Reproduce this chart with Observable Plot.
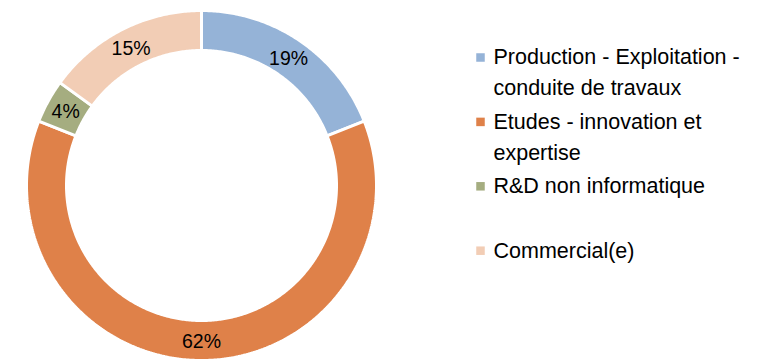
<!DOCTYPE html>
<html>
<head>
<meta charset="utf-8">
<script src="https://cdn.jsdelivr.net/npm/d3@7"></script>
<script src="https://cdn.jsdelivr.net/npm/@observablehq/plot@0.6"></script>
<style>
  html, body { margin: 0; padding: 0; background: #fff; }
  #chart svg { display: block; }
</style>
</head>
<body>
<div id="chart"></div>
<script>
const categories = ["Production - Exploitation - conduite de travaux", "Etudes - innovation et expertise", "R&D non informatique", "Commercial(e)"];
const legendLines = [["Production - Exploitation -", "conduite de travaux"], ["Etudes - innovation et", "expertise"], ["R&D non informatique"], ["Commercial(e)"]];
const values = [19, 62, 4, 15];
const colors = ["#95B3D7", "#DF8149", "#A5AD80", "#F2CDB5"];

const W = 772, H = 361;
const cx = 201, cy = 185, rOuter = 175, rInner = 135, rLabel = 155;
const font = "'Liberation Sans', Arial, sans-serif";

const arcs = d3.pie().sort(null).value(d => d)(values);
const polyPts = [];
arcs.forEach((a, i) => {
  const n = Math.max(8, Math.ceil((a.endAngle - a.startAngle) / 0.01));
  for (let k = 0; k <= n; k++) {
    const t = a.startAngle + (a.endAngle - a.startAngle) * k / n;
    polyPts.push({cat: categories[i], x: cx + rOuter * Math.sin(t), y: cy - rOuter * Math.cos(t)});
  }
  for (let k = n; k >= 0; k--) {
    const t = a.startAngle + (a.endAngle - a.startAngle) * k / n;
    polyPts.push({cat: categories[i], x: cx + rInner * Math.sin(t), y: cy - rInner * Math.cos(t)});
  }
  const t0 = a.startAngle;
  polyPts.push({cat: categories[i], x: cx + rOuter * Math.sin(t0), y: cy - rOuter * Math.cos(t0)});
});

const labels = arcs.map((a, i) => {
  const m = (a.startAngle + a.endAngle) / 2;
  return {text: values[i] + "%", x: cx + rLabel * Math.sin(m), y: cy - rLabel * Math.cos(m) + 1};
});

const legX = 480, legTextX = 493, legY0 = 57, legStep = 64.4, lineH = 31;
const legendSquares = categories.map((c, i) => ({cat: c, x: legX, y: legY0 + i * legStep}));
const legendText = [];
legendLines.forEach((lines, i) => lines.forEach((l, j) => legendText.push({text: l, x: legTextX, y: legY0 + i * legStep + j * lineH})));

const plot = Plot.plot({
  width: W, height: H,
  margin: 0,
  x: {domain: [0, W], range: [0, W], axis: null},
  y: {domain: [0, H], range: [0, H], axis: null},
  color: {domain: categories, range: colors},
  style: {background: "#fff"},
  marks: [
    Plot.line(polyPts, {x: "x", y: "y", z: "cat", fill: "cat", stroke: "#fff", strokeWidth: 3, strokeLinejoin: "miter", curve: "linear"}),
    Plot.text(labels, {x: "x", y: "y", text: "text", fontSize: 19.5, fontFamily: font, fill: "#000"}),
    Plot.dot(legendSquares, {x: "x", y: "y", symbol: "square", r: 4.8, fill: "cat", stroke: null}),
    Plot.text(legendText, {x: "x", y: "y", text: "text", textAnchor: "start", fontSize: 21.5, fontFamily: font, fill: "#000"})
  ]
});
document.getElementById("chart").appendChild(plot);
</script>
</body>
</html>
